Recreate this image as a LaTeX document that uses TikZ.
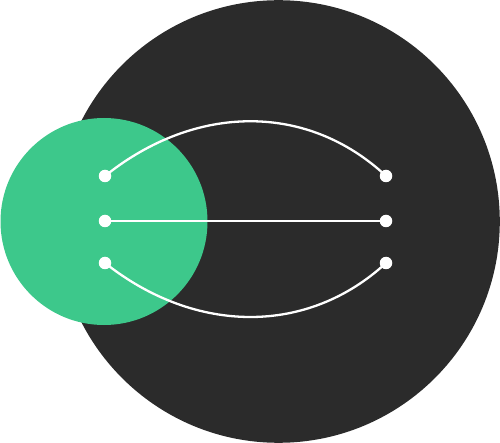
\documentclass[tikz,border=0pt]{standalone}
\usepackage{tikz}
\definecolor{darkbg}{HTML}{2B2B2B}
\definecolor{mint}{HTML}{3DC88B}
\tikzset{
  dot/.style={circle, fill=white, draw=none, minimum size=12.5pt, inner sep=0pt},
  link/.style={draw=white, line width=2.3pt}
}
\begin{document}
\begin{tikzpicture}[x=1pt,y=-1pt]
\useasboundingbox (0,0) rectangle (500,443);
\fill[darkbg] (278.5,221.5) circle[radius=221.3];
\fill[mint] (104,221.5) circle[radius=103.5];
\node[dot] (l1) at (105,176) {};
\node[dot] (l2) at (105,221) {};
\node[dot] (l3) at (105,263) {};
\node[dot] (r1) at (386,176) {};
\node[dot] (r2) at (386,221) {};
\node[dot] (r3) at (386,263) {};
\draw[link] (l1.center) .. controls (196,103) and (308,103) .. (r1.center);
\draw[link] (l2) -- (r2);
\draw[link] (l3.center) .. controls (196,335) and (308,335) .. (r3.center);
\end{tikzpicture}
\end{document}
